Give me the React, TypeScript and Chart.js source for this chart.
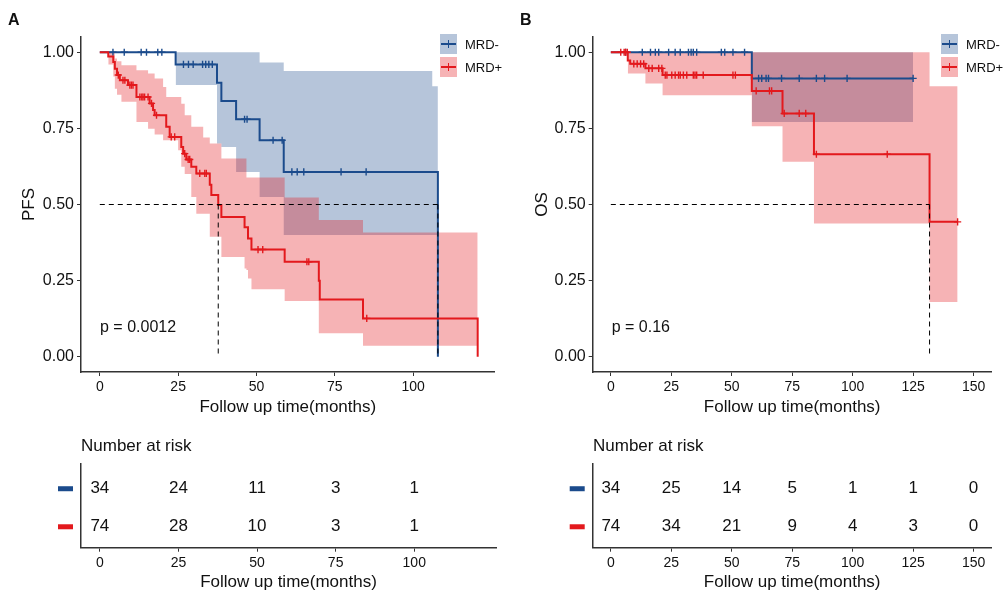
import React, { useEffect, useRef } from 'react';
import { Chart, registerables } from 'chart.js';
Chart.register(...registerables);

const FONT = '"Liberation Sans", Arial, Helvetica, sans-serif';
const BLUE = '#1B4B8C';
const RED = '#E3191D';
const BLUE_FILL = 'rgba(27,75,140,0.32)';
const RED_FILL = 'rgba(227,25,29,0.33)';
const AXIS = '#333';

// ---------- shared ticks ----------
const yTicks = [0, 0.25, 0.5, 0.75, 1];
const pfsXTicks = [0, 25, 50, 75, 100];
const osXTicks = [0, 25, 50, 75, 100, 125, 150];

// ---------- PFS, MRD- ----------
const pfsNegT = [0, 24.2, 37.4, 38.8, 43.5, 51.0, 58.7, 107.9];
const pfsNegS = [1, 0.96, 0.9, 0.84, 0.78, 0.711, 0.607, 0];
const pfsNegCens = [4.2, 7.8, 13.2, 14.9, 18.5, 19.8, 26.7, 28.3, 29.8, 32.8, 33.8, 34.8, 35.9, 46.2, 47.0, 55.3, 58.2, 61.3, 63.0, 65.1, 77.0, 85.0];
const pfsNegBandT = [24.2, 37.4, 38.8, 43.5, 51.0, 58.7, 106.1, 107.9];
const pfsNegUpper = [1.0, 1.0, 1.0, 1.0, 0.966, 0.938, 0.888, 0.888];
const pfsNegLower = [0.892, 0.7, 0.689, 0.607, 0.525, 0.4, 0.4, 0.4];

// ---------- PFS, MRD+ ----------
const pfsPosT = [0, 2.7, 4.3, 4.8, 5.5, 6.4, 9.0, 11.7, 15.9, 17.0, 17.5, 21.2, 22.3, 26.0, 26.6, 27.6, 29.2, 30.8, 35.1, 35.6, 37.8, 38.8, 46.2, 47.3, 48.4, 59.0, 69.9, 70.2, 84.0, 120.6];
const pfsPosS = [1, 0.986, 0.968, 0.946, 0.925, 0.908, 0.892, 0.853, 0.832, 0.81, 0.793, 0.755, 0.722, 0.689, 0.667, 0.648, 0.624, 0.602, 0.565, 0.531, 0.498, 0.459, 0.425, 0.388, 0.352, 0.312, 0.25, 0.188, 0.126, 0];
const pfsPosCens = [5.9, 7.4, 8.0, 9.6, 10.1, 10.6, 12.8, 13.4, 13.8, 14.3, 15.4, 16.5, 18.1, 22.8, 23.9, 27.1, 28.2, 28.7, 31.9, 33.5, 34.0, 50.5, 52.0, 66.1, 66.7, 85.2];
const pfsPosBandT = [2.7, 4.3, 4.8, 5.5, 6.9, 11.7, 15.4, 17.5, 20.2, 21.2, 25.0, 26.0, 27.1, 29.2, 30.8, 33.0, 35.1, 38.8, 46.2, 46.8, 47.3, 48.4, 59.0, 69.9, 84.0, 120.6];
const pfsPosUpper = [1.0, 1.0, 0.979, 0.97, 0.957, 0.941, 0.93, 0.914, 0.886, 0.853, 0.853, 0.831, 0.793, 0.755, 0.755, 0.72, 0.7, 0.651, 0.651, 0.589, 0.589, 0.589, 0.523, 0.449, 0.408, 0.408];
const pfsPosLower = [0.96, 0.92, 0.88, 0.86, 0.837, 0.771, 0.749, 0.73, 0.711, 0.711, 0.678, 0.624, 0.6, 0.525, 0.47, 0.47, 0.394, 0.328, 0.29, 0.285, 0.257, 0.222, 0.183, 0.077, 0.036, 0.036];

// ---------- OS, MRD- ----------
const osNegT = [0, 58.3, 125.0];
const osNegS = [1, 0.914, 0.914];
const osNegCens = [6.1, 13.0, 16.4, 18.4, 19.8, 23.9, 26.6, 28.7, 32.1, 33.2, 34.1, 35.5, 45.7, 47.1, 50.5, 55.3, 61.1, 62.4, 64.2, 65.2, 70.6, 77.9, 85.0, 88.4, 97.7, 125.0];
const osNegBandT = [58.3, 125.0];
const osNegUpper = [1, 1];
const osNegLower = [0.771, 0.771];

// ---------- OS, MRD+ ----------
const osPosT = [0, 7.0, 8.0, 14.3, 21.4, 58.3, 71.0, 84.0, 131.8, 143.4];
const osPosS = [1, 0.973, 0.962, 0.947, 0.925, 0.873, 0.799, 0.665, 0.443, 0.443];
const osPosCens = [4.1, 5.5, 6.1, 6.8, 9.5, 10.9, 12.3, 13.6, 15.7, 17.1, 19.8, 21.1, 22.5, 23.2, 25.2, 26.6, 28.0, 28.7, 30.0, 31.4, 34.1, 34.8, 35.5, 38.2, 50.5, 51.5, 60.1, 65.6, 66.5, 71.7, 77.9, 80.6, 85.0, 114.3, 143.4];
const osPosBandT = [7.0, 14.3, 21.4, 58.3, 71.0, 84.0, 131.8, 143.4];
const osPosUpper = [1, 1, 1, 1, 1, 1, 0.888, 0.888];
const osPosLower = [0.93, 0.897, 0.859, 0.757, 0.64, 0.438, 0.18, 0.18];

// ---------- medians ----------
const pfsMedians = [37.8, 107.9];
const osMedians = [131.8];

// ---------- number at risk ----------
const pfsRiskNeg = [34, 24, 11, 3, 1];
const pfsRiskPos = [74, 28, 10, 3, 1];
const osRiskNeg = [34, 25, 14, 5, 1, 1, 0];
const osRiskPos = [74, 34, 21, 9, 4, 3, 0];

// step function corners: value s[i] holds from t[i] until t[i+1]
const stepPts = (t: number[], s: number[]) => {
  const out: { x: number; y: number }[] = [];
  t.forEach((x, i) => {
    if (i > 0) out.push({ x, y: s[i - 1] });
    out.push({ x, y: s[i] });
  });
  return out;
};
const survAt = (t: number[], s: number[], x: number) => {
  let v = s[0];
  for (let i = 0; i < t.length; i++) if (t[i] <= x) v = s[i];
  return v;
};

interface Group { t: number[]; s: number[]; cens: number[]; bandT: number[]; lo: number[]; hi: number[]; }

function kmConfig(o: { xMin: number; xMax: number; xTicks: number[]; yTitle: string; neg: Group; pos: Group; medians: number[]; yWidth: number; titlePad: number; padRight: number; }) {
  const datasets: any[] = [];
  const dash = { borderColor: '#000', borderWidth: 1, borderDash: [5, 4], pointRadius: 0, fill: false };
  const hMax = Math.max(...o.medians);
  datasets.push({ ...dash, data: [{ x: 0, y: 0.5 }, { x: hMax, y: 0.5 }] });
  o.medians.forEach((m) => datasets.push({ ...dash, data: [{ x: m, y: 0.5 }, { x: m, y: 0 }] }));
  const cens = (g: Group, c: string) => ({
    data: g.cens.map((x) => ({ x, y: survAt(g.t, g.s, x) })), showLine: false, pointStyle: 'cross',
    pointRadius: 3.6, pointBorderColor: c, pointBorderWidth: 1.4, borderColor: c, fill: false,
  });
  const line = (g: Group, c: string) => ({ data: stepPts(g.t, g.s), borderColor: c, borderWidth: 2, pointRadius: 0, fill: false, borderJoinStyle: 'miter' });
  const band = (g: Group, fc: string) => [
    { data: stepPts(g.bandT, g.hi), borderColor: 'rgba(0,0,0,0)', borderWidth: 0, backgroundColor: fc, fill: '+1', pointRadius: 0 },
    { data: stepPts(g.bandT, g.lo), borderColor: 'rgba(0,0,0,0)', borderWidth: 0, fill: false, pointRadius: 0 },
  ];
  datasets.push(cens(o.pos, RED), line(o.pos, RED), cens(o.neg, BLUE), line(o.neg, BLUE), ...band(o.pos, RED_FILL), ...band(o.neg, BLUE_FILL));
  return {
    type: 'line',
    data: { datasets },
    options: {
      responsive: false, animation: false, devicePixelRatio: 1, events: [],
      layout: { padding: { top: 37, right: o.padRight, left: 0, bottom: 0 } },
      plugins: { legend: { display: false }, tooltip: { enabled: false }, filler: { drawTime: 'beforeDatasetsDraw' } },
      scales: {
        x: {
          type: 'linear', min: o.xMin, max: o.xMax,
          afterBuildTicks: (s: any) => { s.ticks = o.xTicks.map((v) => ({ value: v })); },
          afterFit: (s: any) => { s.height = 48; },
          grid: { display: true, drawOnChartArea: false, drawTicks: true, tickLength: 4, color: AXIS, lineWidth: 1 },
          border: { display: true, color: AXIS, width: 1.5 },
          ticks: { font: { family: FONT, size: 14 }, color: '#111', padding: 3, maxRotation: 0, autoSkip: false },
          title: { display: true, text: 'Follow up time(months)', font: { family: FONT, size: 17, lineHeight: 1.2 }, color: '#111', padding: { top: 0, bottom: 2 } },
        },
        y: {
          type: 'linear', min: -0.05, max: 1.05,
          afterBuildTicks: (s: any) => { s.ticks = yTicks.map((v) => ({ value: v })); },
          afterFit: (s: any) => { s.width = o.yWidth; },
          grid: { display: true, drawOnChartArea: false, drawTicks: true, tickLength: 4, color: AXIS, lineWidth: 1 },
          border: { display: true, color: AXIS, width: 1.5 },
          ticks: { font: { family: FONT, size: 16 }, color: '#111', padding: 3, callback: (v: any) => Number(v).toFixed(2) },
          title: { display: true, text: o.yTitle, font: { family: FONT, size: 17, lineHeight: 1.2 }, color: '#111', padding: { top: o.titlePad, bottom: 0 } },
        },
      },
    },
  } as any;
}

function riskConfig(o: { xMin: number; xMax: number; xTicks: number[]; neg: number[]; pos: number[]; yWidth: number; padRight: number; }) {
  return {
    type: 'scatter',
    data: { datasets: [] },
    options: {
      responsive: false, animation: false, devicePixelRatio: 1, events: [],
      layout: { padding: { top: 44, right: o.padRight, left: 0, bottom: 0 } },
      plugins: { legend: { display: false }, tooltip: { enabled: false } },
      scales: {
        x: {
          type: 'linear', min: o.xMin, max: o.xMax,
          afterBuildTicks: (s: any) => { s.ticks = o.xTicks.map((v) => ({ value: v })); },
          afterFit: (s: any) => { s.height = 43.3; },
          grid: { display: true, drawOnChartArea: false, drawTicks: true, tickLength: 4, color: AXIS, lineWidth: 1 },
          border: { display: true, color: AXIS, width: 1.5 },
          ticks: { font: { family: FONT, size: 14 }, color: '#111', padding: 3, maxRotation: 0, autoSkip: false },
          title: { display: true, text: 'Follow up time(months)', font: { family: FONT, size: 17, lineHeight: 1 }, color: '#111', padding: { top: 0, bottom: 0 } },
        },
        y: {
          type: 'linear', min: 0.45, max: 2.65,
          afterFit: (s: any) => { s.width = o.yWidth; },
          grid: { display: false },
          border: { display: true, color: AXIS, width: 1.5 },
          ticks: { display: false },
        },
      },
    },
    plugins: [{
      id: 'riskText',
      afterDraw(chart: any) {
        const { ctx, chartArea } = chart;
        const xs = chart.scales.x, ys = chart.scales.y;
        ctx.save();
        const rows: [number[], number, string][] = [[o.neg, 2, BLUE], [o.pos, 1, RED]];
        rows.forEach(([vals, row, c]) => {
          const y = ys.getPixelForValue(row);
          ctx.fillStyle = c;
          ctx.fillRect(chartArea.left - 23, y - 2.5, 15, 5);
          ctx.fillStyle = '#111';
          ctx.font = `17px ${FONT}`;
          ctx.textAlign = 'center';
          ctx.textBaseline = 'middle';
          vals.forEach((v, i) => ctx.fillText(String(v), xs.getPixelForValue(o.xTicks[i]), y));
        });
        ctx.restore();
      },
    }],
  } as any;
}

function ChartCanvas({ left, top, width, height, config }: any) {
  const ref = useRef<HTMLCanvasElement>(null);
  useEffect(() => {
    const c = new Chart(ref.current as HTMLCanvasElement, config());
    return () => c.destroy();
  }, []);
  return <canvas ref={ref} width={width} height={height} style={{ position: 'absolute', left, top, width, height }} />;
}

function Txt({ x, y, size, children, bold }: any) {
  return (
    <div style={{ position: 'absolute', left: x, top: y, transform: 'translateY(-50%)', fontFamily: FONT, fontSize: size, lineHeight: 1, whiteSpace: 'nowrap', color: '#111', fontWeight: bold ? 'bold' : 'normal' }}>
      {children}
    </div>
  );
}

function LegendKey({ x, y, fill, color }: any) {
  return (
    <div style={{ position: 'absolute', left: x, top: y, width: 17, height: 20, background: fill }}>
      <div style={{ position: 'absolute', left: 1, right: 1, top: 9, height: 2, background: color }} />
      <div style={{ position: 'absolute', left: 7.5, width: 1.5, top: 6, height: 8, background: color }} />
    </div>
  );
}

const pfsNeg: Group = { t: pfsNegT, s: pfsNegS, cens: pfsNegCens, bandT: pfsNegBandT, lo: pfsNegLower, hi: pfsNegUpper };
const pfsPos: Group = { t: pfsPosT, s: pfsPosS, cens: pfsPosCens, bandT: pfsPosBandT, lo: pfsPosLower, hi: pfsPosUpper };
const osNeg: Group = { t: osNegT, s: osNegS, cens: osNegCens, bandT: osNegBandT, lo: osNegLower, hi: osNegUpper };
const osPos: Group = { t: osPosT, s: osPosS, cens: osPosCens, bandT: osPosBandT, lo: osPosLower, hi: osPosUpper };

export default function App() {
  return (
    <div style={{ position: 'fixed', left: 0, top: 0, width: 1003, height: 591, background: '#fff', overflow: 'hidden' }}>
      <ChartCanvas left={0} top={0} width={500} height={420}
        config={() => kmConfig({ xMin: -6, xMax: 126, xTicks: pfsXTicks, yTitle: 'PFS', neg: pfsNeg, pos: pfsPos, medians: pfsMedians, yWidth: 81, titlePad: 19, padRight: 4 })} />
      <ChartCanvas left={500} top={0} width={503} height={420}
        config={() => kmConfig({ xMin: -7.5, xMax: 157.5, xTicks: osXTicks, yTitle: 'OS', neg: osNeg, pos: osPos, medians: osMedians, yWidth: 92.7, titlePad: 32, padRight: 11.3 })} />
      <ChartCanvas left={0} top={420} width={500} height={171}
        config={() => riskConfig({ xMin: -6, xMax: 126, xTicks: pfsXTicks, neg: pfsRiskNeg, pos: pfsRiskPos, yWidth: 81, padRight: 4 })} />
      <ChartCanvas left={500} top={420} width={503} height={171}
        config={() => riskConfig({ xMin: -7.5, xMax: 157.5, xTicks: osXTicks, neg: osRiskNeg, pos: osRiskPos, yWidth: 92.7, padRight: 11.3 })} />

      <Txt x={8} y={20} size={16} bold>A</Txt>
      <Txt x={520} y={20} size={16} bold>B</Txt>

      <LegendKey x={440} y={33.5} fill={BLUE_FILL} color={BLUE} />
      <LegendKey x={440} y={56.5} fill={RED_FILL} color={RED} />
      <Txt x={465} y={44} size={13}>MRD-</Txt>
      <Txt x={465} y={67} size={13}>MRD+</Txt>

      <LegendKey x={941} y={33.5} fill={BLUE_FILL} color={BLUE} />
      <LegendKey x={941} y={56.5} fill={RED_FILL} color={RED} />
      <Txt x={966} y={44} size={13}>MRD-</Txt>
      <Txt x={966} y={67} size={13}>MRD+</Txt>

      <Txt x={100} y={327} size={16}>p = 0.0012</Txt>
      <Txt x={611.7} y={327} size={16}>p = 0.16</Txt>

      <Txt x={81} y={445} size={17}>Number at risk</Txt>
      <Txt x={593} y={445} size={17}>Number at risk</Txt>
    </div>
  );
}
